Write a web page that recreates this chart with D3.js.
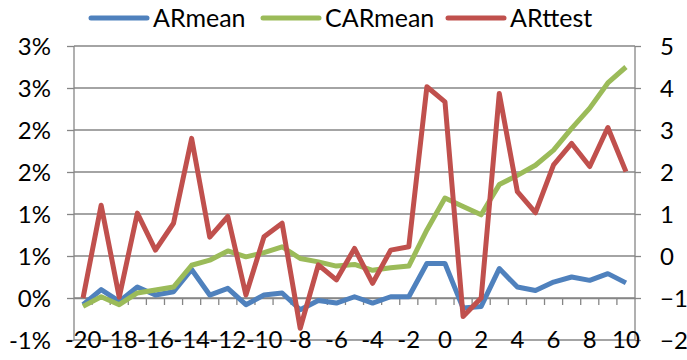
<!DOCTYPE html>
<html><head><meta charset="utf-8">
<script src="https://cdn.jsdelivr.net/npm/d3@7"></script>
<style>body{margin:0;background:#fff}svg{display:block}text{font-family:Lato,"Noto Sans",sans-serif;fill:#000}</style>
</head><body><svg id="c" width="687" height="360"></svg>
<script>
const categories = [-20,-19,-18,-17,-16,-15,-14,-13,-12,-11,-10,-9,-8,-7,-6,-5,-4,-3,-2,-1,0,1,2,3,4,5,6,7,8,9,10];
const xTickLabels = [-20,-18,-16,-14,-12,-10,-8,-6,-4,-2,0,2,4,6,8,10];
const arMean = [-0.08,0.10,-0.04,0.13,0.035,0.075,0.34,0.035,0.115,-0.08,0.035,0.06,-0.14,-0.03,-0.06,0.015,-0.06,0.015,0.015,0.41,0.41,-0.12,-0.10,0.35,0.13,0.09,0.19,0.25,0.21,0.29,0.18];
const carMean = [-0.10,0.015,-0.08,0.06,0.095,0.13,0.39,0.45,0.56,0.49,0.54,0.61,0.47,0.43,0.38,0.40,0.33,0.36,0.38,0.81,1.19,1.09,0.99,1.35,1.46,1.58,1.76,2.02,2.26,2.56,2.75];
const arTtest = [-1.0,1.21,-0.98,1.02,0.14,0.78,2.80,0.45,0.94,-0.93,0.46,0.78,-1.72,-0.21,-0.57,0.18,-0.65,0.14,0.22,4.03,3.67,-1.44,-1.0,3.87,1.53,1.03,2.17,2.68,2.13,3.06,2.01];
const leftTicks = [-0.5,0,0.5,1.0,1.5,2.0,2.5,3.0];
const leftTickLabels = ["-1%","0%","1%","1%","2%","2%","3%","3%"];
const rightTicks = [-2,-1,0,1,2,3,4,5];
const seriesNames = ["ARmean","CARmean","ARttest"];
const colors = ["#4F81BD","#9BBB59","#C0504D"];

const svg = d3.select("#c");
const L=74, R=635, T=46, B=340;
const x = d3.scaleBand().domain(categories).range([L,R]);
const yL = d3.scaleLinear().domain([-0.5,3.0]).range([B,T]);
const yR = d3.scaleLinear().domain([-2,5]).range([B,T]);
const gridC = "#868686";
const FS = 24;

// gridlines
svg.append("g").selectAll("line").data(rightTicks).join("line")
  .attr("x1",L).attr("x2",R).attr("y1",d=>yR(d)).attr("y2",d=>yR(d))
  .attr("stroke",gridC).attr("stroke-width",1.3);

// left axis
const gl = svg.append("g").attr("transform",`translate(${L},0)`)
  .call(d3.axisLeft(yL).tickValues(leftTicks).tickSize(7).tickPadding(16).tickFormat((d,i)=>leftTickLabels[i]));
// right axis
const gr = svg.append("g").attr("transform",`translate(${R},0)`)
  .call(d3.axisRight(yR).tickValues(rightTicks).tickSize(6).tickPadding(19).tickFormat(d3.format("d")));
// x axis at 0%
const gx = svg.append("g").attr("transform",`translate(0,${yL(0)})`)
  .call(d3.axisBottom(x).tickValues([]).tickSize(0));
// category boundary ticks
svg.append("g").selectAll("line").data(categories.slice(1)).join("line")
  .attr("x1",d=>x(d)).attr("x2",d=>x(d)).attr("y1",yL(0)).attr("y2",yL(0)+7)
  .attr("stroke",gridC).attr("stroke-width",1.3);
// x labels
svg.append("g").selectAll("text").data(xTickLabels).join("text")
  .attr("x",d=>x(d)+x.bandwidth()/2).attr("y",B+8)
  .attr("text-anchor","middle").attr("font-size",FS).text(d=>d);

[gl,gr,gx].forEach(g=>{
  g.selectAll(".domain").attr("stroke",gridC).attr("stroke-width",1.3);
  g.selectAll(".tick line").attr("stroke",gridC).attr("stroke-width",1.3);
  g.selectAll(".tick text").attr("font-size",FS).attr("font-family","Lato").attr("dy","0.36em").attr("fill","#000");
});
gl.select(".domain").attr("d",`M0,${T}V${B}`);
gr.select(".domain").attr("d",`M0,${T}V${B}`);
gr.selectAll(".tick text").attr("text-anchor","start");

const cx = d=>x(d)+x.bandwidth()/2;
const lineL = d3.line().x((d,i)=>cx(categories[i])).y(d=>yL(d));
const lineR = d3.line().x((d,i)=>cx(categories[i])).y(d=>yR(d));
const data = [[arMean,lineL],[carMean,lineL],[arTtest,lineR]];
data.forEach(([vals,ln],i)=>{
  svg.append("path").attr("d",ln(vals)).attr("fill","none")
    .attr("stroke",colors[i]).attr("stroke-width",5).attr("stroke-linejoin","round");
});

// legend
const legX = [91,263,448];
const leg = svg.append("g").selectAll("g").data(seriesNames).join("g")
  .attr("transform",(d,i)=>`translate(${legX[i]},18)`);
leg.append("line").attr("x1",0).attr("x2",56).attr("y1",0).attr("y2",0)
  .attr("stroke",(d,i)=>colors[i]).attr("stroke-width",5).attr("stroke-linecap","round");
leg.append("text").attr("x",62).attr("y",0).attr("dy","0.36em").attr("font-size",25).text(d=>d);
</script></body></html>
